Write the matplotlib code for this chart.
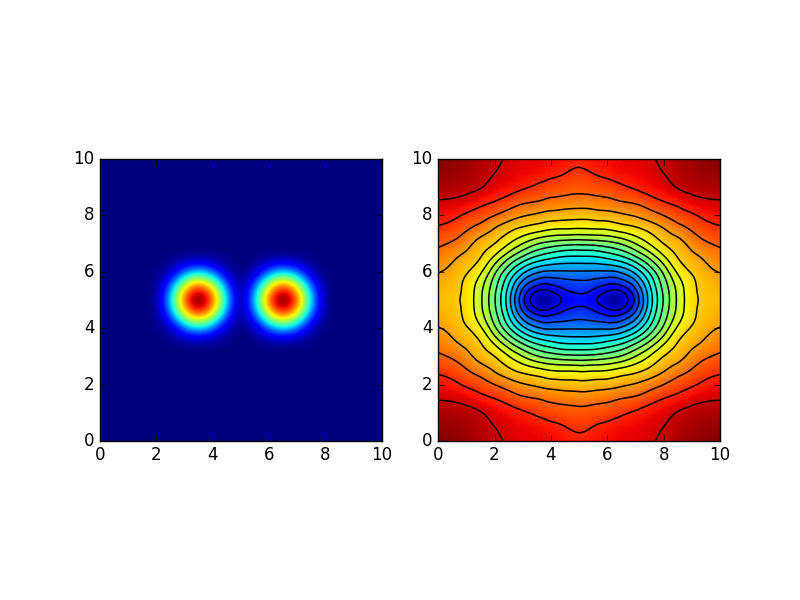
import numpy as np
import matplotlib
matplotlib.use("Agg")
import matplotlib.pyplot as plt
import matplotlib.tri as mtri

plt.style.use("classic")
plt.rcParams["font.family"] = "DejaVu Sans"

# left panel: one quarter of a blob (steps of 0.25 from its centre)
blob_step = 0.25
blob_centres = [3.5, 6.5]
blob_centre_y = 5.0
blob_quarter = [
    [1.00, 0.94, 0.78, 0.57, 0.33, 0.14, 0.04],
    [0.94, 0.88, 0.73, 0.53, 0.30, 0.13, 0.04],
    [0.78, 0.73, 0.60, 0.42, 0.23, 0.10, 0.03],
    [0.57, 0.53, 0.42, 0.27, 0.14, 0.06, 0.02],
    [0.33, 0.30, 0.23, 0.14, 0.07, 0.03, 0.01],
    [0.14, 0.13, 0.10, 0.06, 0.03, 0.01, 0.00],
    [0.04, 0.04, 0.03, 0.02, 0.01, 0.00, 0.00],
]

# right panel: one quarter of the field, distance from the centre (5, 5)
field_dx = [0, 0.5, 1, 1.25, 1.5, 2, 2.5, 3, 3.5, 4, 4.5, 5]
field_dy = [0, 0.25, 0.5, 1, 1.5, 2, 2.5, 3, 3.5, 4, 4.5, 5]
field_quarter = [
    [.137, .112, .052, .030, .055, .168, .335, .478, .590, .668, .700, .712],
    [.156, .136, .086, .068, .086, .185, .342, .482, .592, .670, .703, .714],
    [.184, .170, .143, .135, .150, .224, .362, .494, .600, .672, .708, .722],
    [.255, .254, .252, .255, .270, .330, .430, .540, .642, .692, .725, .742],
    [.355, .357, .375, .388, .405, .460, .535, .620, .687, .722, .750, .775],
    [.485, .490, .505, .516, .532, .580, .635, .687, .718, .760, .792, .810],
    [.625, .628, .633, .642, .652, .672, .700, .735, .772, .805, .836, .852],
    [.706, .710, .716, .722, .730, .745, .770, .800, .830, .854, .880, .893],
    [.772, .777, .785, .792, .800, .812, .838, .864, .886, .910, .924, .928],
    [.818, .825, .834, .843, .853, .872, .892, .910, .935, .948, .955, .958],
    [.852, .865, .880, .888, .895, .903, .915, .932, .948, .965, .975, .980],
    [.878, .888, .898, .902, .906, .912, .925, .942, .958, .974, .988, 1.00],
]
contour_levels = [.10, .153, .207, .26, .313, .367, .42, .473, .527, .58,
                  .633, .687, .74, .80, .864, .932]

# left image on a regular grid, zero away from the blobs
n_cells = int(10 / blob_step) + 1
blobs = np.zeros((n_cells, n_cells))
quarter = np.array(blob_quarter)
row0 = int(blob_centre_y / blob_step)
for cx in blob_centres:
    col0 = int(cx / blob_step)
    for j in range(quarter.shape[0]):
        for i in range(quarter.shape[1]):
            for sx in (-1, 1):
                for sy in (-1, 1):
                    blobs[row0 + sy * j, col0 + sx * i] = quarter[j, i]

# mirror the quarter into the full field
dx = np.array(field_dx)
dy = np.array(field_dy)
z = np.array(field_quarter)
xs = np.concatenate([5 - dx[::-1], 5 + dx[1:]])
ys = np.concatenate([5 - dy[::-1], 5 + dy[1:]])
z = np.hstack([z[:, ::-1], z[:, 1:]])
z = np.vstack([z[::-1, :], z[1:, :]])
X, Y = np.meshgrid(xs, ys)

# smooth curves through the read values with matplotlib's own refiner
tri = mtri.Triangulation(X.ravel(), Y.ravel())
refiner = mtri.UniformTriRefiner(tri)
fine_tri, fine_z = refiner.refine_field(z.ravel(), subdiv=3)

fig = plt.figure(figsize=(8, 6), facecolor="white")

ax1 = fig.add_subplot(121)
half = blob_step / 2
ax1.imshow(blobs, origin="lower", cmap="jet", vmin=0, vmax=1,
           extent=(-half, 10 + half, -half, 10 + half), interpolation="bicubic")
ax1.set_xlim(0, 10)
ax1.set_ylim(0, 10)

ax2 = fig.add_subplot(122)
ax2.tripcolor(fine_tri, fine_z, cmap="jet", vmin=0, vmax=1, shading="gouraud")
ax2.tricontour(fine_tri, fine_z, levels=contour_levels, colors="k", linewidths=1.1)
ax2.set_aspect("equal")
ax2.set_xlim(0, 10)
ax2.set_ylim(0, 10)

fig.savefig("out.png", dpi=100, facecolor="white")
